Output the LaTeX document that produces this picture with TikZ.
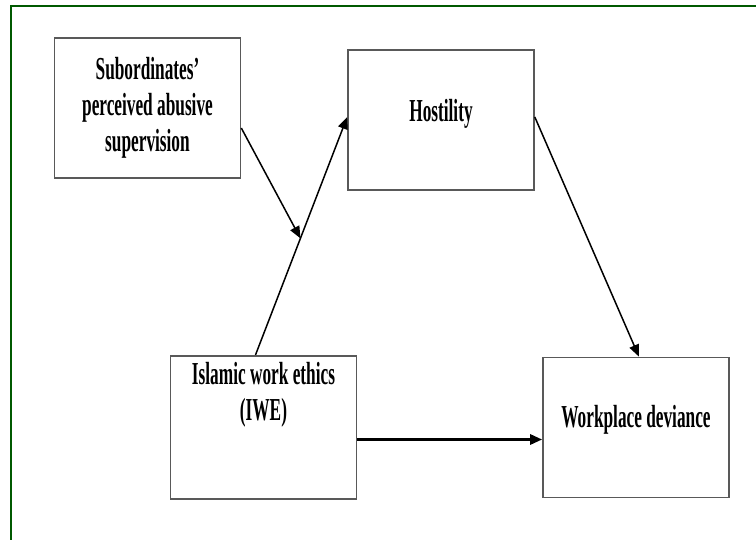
\documentclass[tikz,border=0pt]{standalone}
\usepackage{fontspec}
\usepackage{tikz}
\usetikzlibrary{arrows.meta, calc}
\newfontfamily\boxfont{Liberation Serif}[FakeStretch=0.54]
\definecolor{framegreen}{rgb}{0.0, 0.35, 0.0}
\definecolor{boxgray}{rgb}{0.35, 0.35, 0.35}

\begin{document}
\begin{tikzpicture}[x=0.5pt, y=-0.5pt,
	var/.style={draw=boxgray, line width=0.8pt, minimum width=93pt, minimum height=70pt,
		align=center, font=\boxfont\bfseries\fontsize{16}{18}\selectfont},
	oneline/.style={text height=11pt, text depth=#1},
	path/.style={-{Triangle[length=6pt, width=5pt]}, line width=0.75pt}]
	\useasboundingbox (0,0) rectangle (756,540);
	\draw[framegreen, line width=1pt] (11,540) -- (11,6) -- (756,6);

	\node[var] (sub) at (147.5,108) {Subordinates’\\perceived abusive\\supervision};
	\node[var, oneline=9pt] (host) at (441,120) {Hostility};
	\node[var, text depth=36pt] (iwe) at (263.5,427.5) {Islamic work ethics\\(IWE)};
	\node[var, oneline=11pt] (dev) at (636,427.5) {Workplace deviance};

	\coordinate (iwetop) at ([xshift=-4pt]iwe.north);
	\coordinate (hostin) at ([yshift=1.5pt]host.west);
	\coordinate (meet) at ($(iwetop)!0.49!(hostin)$);
	\draw[path] (iwetop) -- (hostin);
	\draw[path] ([yshift=-10pt]sub.east) -- (meet);
	\draw[path] ([yshift=1.5pt]host.east) -- ([xshift=1.5pt]dev.north);
	\draw[path, line width=1.4pt] ([yshift=-6pt]iwe.east) -- ([yshift=-6pt]dev.west);
\end{tikzpicture}
\end{document}
